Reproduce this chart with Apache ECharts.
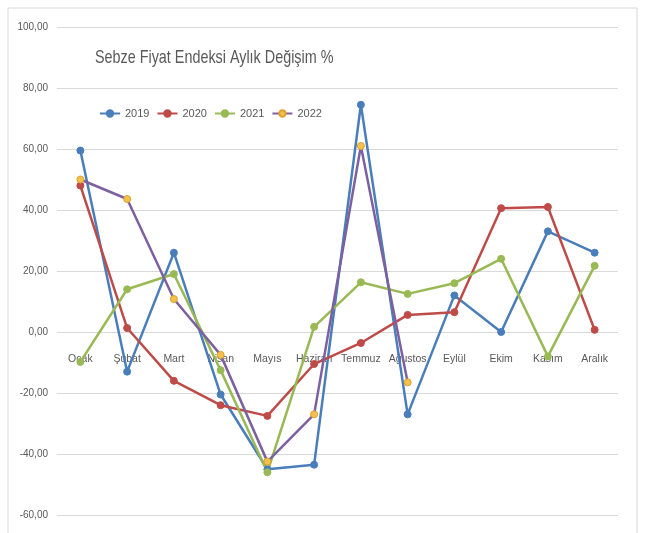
<!DOCTYPE html>
<html>
<head>
<meta charset="utf-8">
<script src="https://cdn.jsdelivr.net/npm/echarts@6/dist/echarts.min.js"></script>
<style>
html,body{margin:0;padding:0;background:#fff;}
#c{width:645px;height:533px;}
</style>
</head>
<body>
<div id="c"></div>
<script>
const months = ['Ocak','Şubat','Mart','Nisan','Mayıs','Haziran','Temmuz','Ağustos','Eylül','Ekim','Kasım','Aralık'];
const s2019 = [59.5, -13, 26, -20.5, -45, -43.5, 74.5, -27, 12, 0, 33, 26];
const s2020 = [48, 1.3, -16, -24, -27.5, -10.5, -3.6, 5.6, 6.5, 40.6, 41, 0.7];
const s2021 = [-9.8, 14, 19, -12.5, -46, 1.7, 16.3, 12.5, 16, 24, -8, 21.7];
const s2022 = [50, 43.6, 10.8, -7.5, -42.5, -27, 61, -16.5, null, null, null, null];
const yTicks = {min: -60, max: 100, interval: 20};
const FONT = "'Liberation Sans', Arial, sans-serif";

const W = 645, H = 533;
const gridTop = 27, gridBottom = 18;
const plotH = H - gridTop - gridBottom;
const zeroOffset = -plotH * (0 - yTicks.min) / (yTicks.max - yTicks.min);

const C = {y2019: '#4a7ebb', y2020: '#be4b48', y2021: '#98b954', y2022: '#7d60a0'};

const chart = echarts.init(document.getElementById('c'), null, {renderer: 'canvas'});
function ser(name, data, color, markerFill, markerBorder) {
  return {
    name: name, type: 'line', data: data, color: color,
    symbol: 'circle', symbolSize: 7,
    connectNulls: false,
    lineStyle: {color: color, width: 2.5},
    itemStyle: {color: markerFill || color, borderColor: markerBorder || color, borderWidth: 1},
    emphasis: {disabled: true},
    animation: false
  };
}
chart.setOption({
  backgroundColor: '#fff',
  animation: false,
  legend: {
    left: 94, top: 103,
    itemWidth: 20, itemHeight: 8, itemGap: 7,
    textStyle: {fontFamily: FONT, fontSize: 11, color: '#595959'},
    data: [
      {name: '2019', lineStyle: {color: C.y2019}},
      {name: '2020', lineStyle: {color: C.y2020}},
      {name: '2021', lineStyle: {color: C.y2021}},
      {name: '2022', lineStyle: {color: C.y2022}}
    ]
  },
  grid: {left: 57, right: 27, top: gridTop, bottom: gridBottom, containLabel: false},
  xAxis: {
    type: 'category', data: months, boundaryGap: true,
    position: 'bottom', offset: zeroOffset,
    axisLine: {show: false, onZero: false},
    axisTick: {show: false},
    axisLabel: {fontFamily: FONT, fontSize: 10.5, color: '#595959', margin: 22, interval: 0}
  },
  yAxis: {
    type: 'value', min: yTicks.min, max: yTicks.max, interval: yTicks.interval,
    axisLine: {show: false}, axisTick: {show: false},
    splitLine: {lineStyle: {color: '#d9d9d9', width: 1}},
    axisLabel: {fontFamily: FONT, fontSize: 10, color: '#595959', margin: 9,
      formatter: v => v.toFixed(2).replace('.', ',')}
  },
  graphic: [{
    type: 'rect', shape: {x: 8, y: 8, width: 629, height: 540},
    style: {fill: 'none', stroke: '#d9d9d9', lineWidth: 1}, silent: true, z: -1
  }, {
    type: 'text', left: 95, top: 48, scaleX: 0.756, originX: 0,
    style: {text: 'Sebze Fiyat Endeksi Aylık Değişim %', fontFamily: FONT, fontSize: 19, fill: '#595959'},
    silent: true
  }],
  series: [
    ser('2019', s2019, C.y2019),
    ser('2020', s2020, C.y2020),
    ser('2021', s2021, C.y2021),
    ser('2022', s2022, C.y2022, '#f2c14e', '#e0a030')
  ]
});
</script>
</body>
</html>
